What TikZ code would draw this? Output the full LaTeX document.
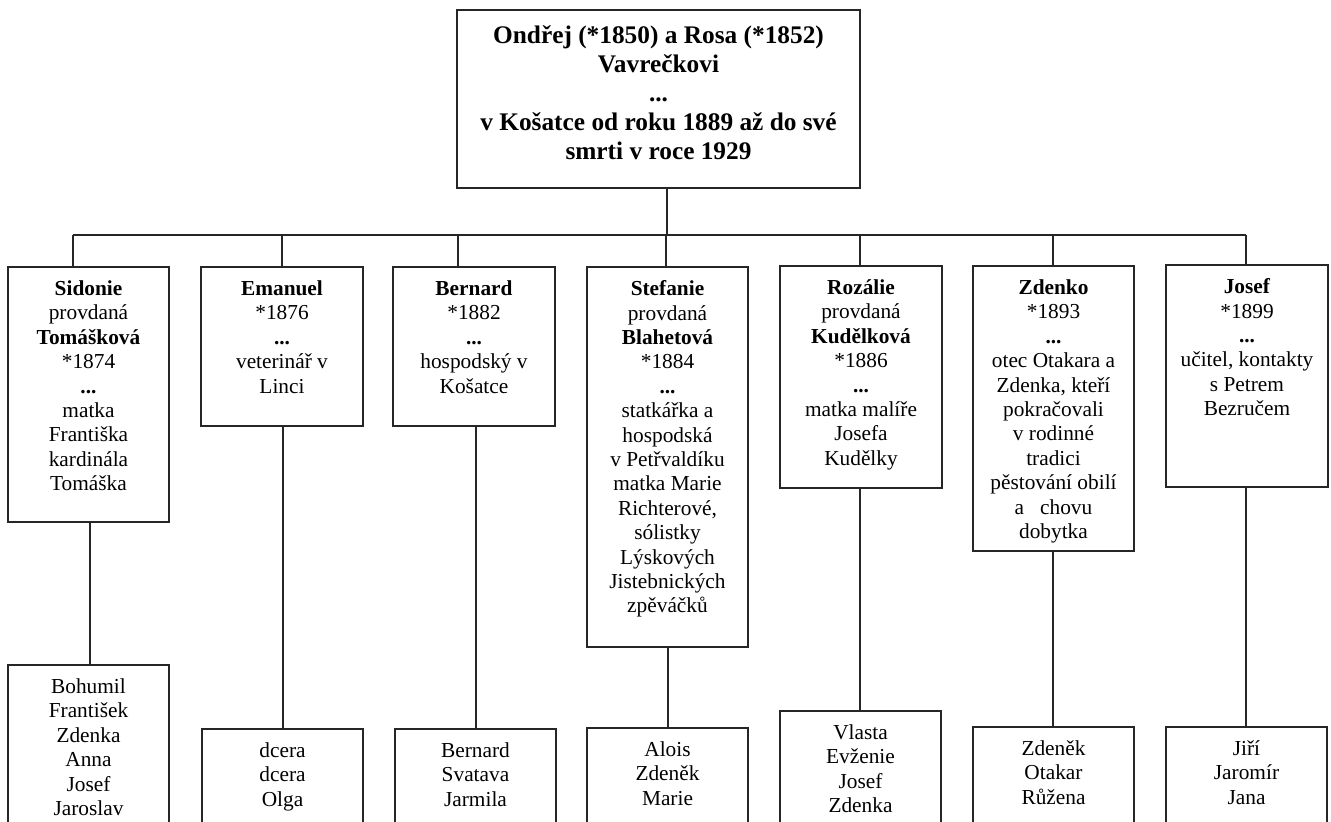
\documentclass[tikz,border=0pt]{standalone}
\usepackage{fontspec}
\setmainfont{Liberation Serif}
\usetikzlibrary{fit}
\newcommand\famBox[7]{%
  \node[box, fit={(#2,#3)(#4,#5)}] (#1) {};
  \node[#6] (#1t) at ([yshift=-10.5pt]#1.north) {#7};}
\begin{document}
\begin{tikzpicture}[x=0.75pt,y=-0.75pt,
  box/.style={draw=black!85, line width=0.8pt, inner sep=0pt},
  conn/.style={draw=black!85, line width=0.8pt},
  txt/.style={anchor=north, inner sep=0pt, align=center,
    font=\fontsize{16}{18.3}\selectfont, execute at begin node=\strut},
  toptxt/.style={anchor=north, inner sep=0pt, align=center,
    font=\fontsize{19}{21.8}\selectfont\bfseries, execute at begin node=\strut}]
\useasboundingbox (0,0) rectangle (1331,821);
\clip (0,0) rectangle (1331,821);
\fill[white] (0,0) rectangle (1331,821);

% parents
\node[box, fit={(457,10)(860,188)}] (top) {};
\node[toptxt] (topt) at ([yshift=-11.75pt]top.north)
  {Ondřej (*1850) a Rosa (*1852)\\Vavrečkovi\\...\\v Košatce od roku 1889 až do své\\smrti v roce 1929};

% children
\famBox{sid}{8}{267}{169}{522}{txt}{\textbf{Sidonie}\\provdaná\\\textbf{Tomášková}\\{}*1874\\\textbf{...}\\matka\\Františka\\kardinála\\Tomáška}
\famBox{em}{201}{267}{363}{426}{txt}{\textbf{Emanuel}\\{}*1876\\\textbf{...}\\veterinář v\\Linci}
\famBox{ber}{393}{267}{555}{426}{txt}{\textbf{Bernard}\\{}*1882\\\textbf{...}\\hospodský v\\Košatce}
\famBox{ste}{587}{267}{748}{647}{txt}{\textbf{Stefanie}\\provdaná\\\textbf{Blahetová}\\{}*1884\\\textbf{...}\\statkářka a\\hospodská\\v Petřvaldíku\\matka Marie\\Richterové,\\sólistky\\Lýskových\\Jistebnických\\zpěváčků}
\famBox{roz}{780}{266}{942}{488}{txt}{\textbf{Rozálie}\\provdaná\\\textbf{Kudělková}\\{}*1886\\\textbf{...}\\matka malíře\\Josefa\\Kudělky}
\famBox{zd}{973}{266}{1134}{551}{txt}{\textbf{Zdenko}\\{}*1893\\\textbf{...}\\otec Otakara a\\Zdenka, kteří\\pokračovali\\v rodinné\\tradici\\pěstování obilí\\a\ \ \ chovu\\dobytka}
\famBox{jo}{1166}{265}{1328}{487}{txt}{\textbf{Josef}\\{}*1899\\\textbf{...}\\učitel, kontakty\\s Petrem\\Bezručem}

% grandchildren
\famBox{sidk}{8}{665}{169}{840}{txt}{Bohumil\\František\\Zdenka\\Anna\\Josef\\Jaroslav}
\famBox{emk}{202}{729}{363}{840}{txt}{dcera\\dcera\\Olga}
\famBox{berk}{395}{729}{556}{840}{txt}{Bernard\\Svatava\\Jarmila}
\famBox{stek}{587}{728}{748}{840}{txt}{Alois\\Zdeněk\\Marie}
\famBox{rozk}{780}{711}{941}{840}{txt}{Vlasta\\Evženie\\Josef\\Zdenka}
\famBox{zdk}{973}{727}{1134}{840}{txt}{Zdeněk\\Otakar\\Růžena}
\famBox{jok}{1166}{727}{1327}{840}{txt}{Jiří\\Jaromír\\Jana}

% bus
\coordinate (bus) at (667,235);
\coordinate (busL) at (73,235);
\coordinate (busR) at (1246,235);
\draw[conn] (bus |- top.south) -- (bus);
\draw[conn] (busL) -- (busR);
\coordinate (j1) at (73,235);
\coordinate (j2) at (282,235);
\coordinate (j3) at (458,235);
\coordinate (j4) at (666,235);
\coordinate (j5) at (860,235);
\coordinate (j6) at (1053,235);
\coordinate (j7) at (1246,235);
\draw[conn] (j1) -- (j1 |- sid.north);
\draw[conn] (j2) -- (j2 |- em.north);
\draw[conn] (j3) -- (j3 |- ber.north);
\draw[conn] (j4) -- (j4 |- ste.north);
\draw[conn] (j5) -- (j5 |- roz.north);
\draw[conn] (j6) -- (j6 |- zd.north);
\draw[conn] (j7) -- (j7 |- jo.north);

% child to grandchildren
\coordinate (k1) at (90,0);
\coordinate (k2) at (283,0);
\coordinate (k3) at (476,0);
\coordinate (k4) at (668,0);
\coordinate (k5) at (860,0);
\coordinate (k6) at (1053,0);
\coordinate (k7) at (1246,0);
\draw[conn] (k1 |- sid.south) -- (k1 |- sidk.north);
\draw[conn] (k2 |- em.south) -- (k2 |- emk.north);
\draw[conn] (k3 |- ber.south) -- (k3 |- berk.north);
\draw[conn] (k4 |- ste.south) -- (k4 |- stek.north);
\draw[conn] (k5 |- roz.south) -- (k5 |- rozk.north);
\draw[conn] (k6 |- zd.south) -- (k6 |- zdk.north);
\draw[conn] (k7 |- jo.south) -- (k7 |- jok.north);
\end{tikzpicture}
\end{document}
